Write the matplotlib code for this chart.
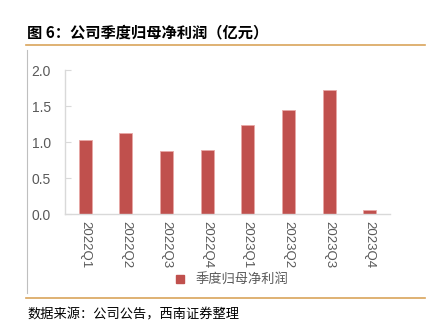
import matplotlib.pyplot as plt
from matplotlib.lines import Line2D

plt.rcParams['font.family'] = ['Liberation Sans', 'Noto Sans CJK SC', 'DejaVu Sans']

quarters = ["2022Q1", "2022Q2", "2022Q3", "2022Q4", "2023Q1", "2023Q2", "2023Q3", "2023Q4"]
profit = [1.03, 1.12, 0.87, 0.89, 1.24, 1.45, 1.72, 0.05]
yticks = [0.0, 0.5, 1.0, 1.5, 2.0]

bar_color = "#C0504D"
grey_txt = "#595959"
orange = "#D9A45B"

fig = plt.figure(figsize=(4.31, 3.31), dpi=100)
ax = fig.add_axes([65/431, 1-214/331, 325/431, 144/331])

x = range(len(quarters))
ax.bar(x, profit, width=0.32, color=bar_color, edgecolor="#E8A8A6", linewidth=0.6, label="季度归母净利润")
ax.set_xlim(-0.5, len(quarters)-0.5)
ax.set_ylim(0, 2.0)
ax.set_yticks(yticks)
ax.set_yticklabels([f"{v:.1f}" for v in yticks])
ax.set_xticks(list(x))
ax.set_xticklabels(quarters, rotation=-90)

for s in ["top", "right"]:
    ax.spines[s].set_visible(False)
for s in ["left", "bottom"]:
    ax.spines[s].set_color("#D9D9D9")
    ax.spines[s].set_linewidth(1.0)

ax.tick_params(axis="y", direction="in", length=4, color="#D9D9D9", pad=10,
               labelsize=10, labelcolor=grey_txt)
ax.tick_params(axis="x", length=0, pad=5, labelsize=9.5, labelcolor=grey_txt)

handle = Line2D([], [], marker="s", color=bar_color, linestyle="none", markersize=6)
leg = ax.legend([handle], ["季度归母净利润"], loc="center", bbox_to_anchor=(0.5, -0.46),
                frameon=False, handletextpad=0.2, fontsize=9.5)
for t in leg.get_texts():
    t.set_color(grey_txt)
    t.set_family(["Noto Sans CJK SC"])

# header, rules and source note
fig.text(27/431, 1-32/331, "图 6：公司季度归母净利润（亿元）", fontsize=11, fontweight="bold",
         va="center", ha="left", family=["Noto Sans CJK SC"], color="#000000")
fig.add_artist(Line2D([26/431, 425/431], [1-45/331, 1-45/331], color=orange, linewidth=1.2))
fig.add_artist(Line2D([26/431, 425/431], [1-298/331, 1-298/331], color=orange, linewidth=1.2))
fig.add_artist(Line2D([27/431, 27/431], [1-50/331, 1-293/331], color="#BFBFBF", linewidth=0.8))
fig.text(27/431, 1-315/331, "数据来源：公司公告，西南证券整理", fontsize=9.5, style="italic",
         va="center", ha="left", family=["Noto Sans CJK SC"], color="#000000")

fig.savefig("out.png", dpi=100)
